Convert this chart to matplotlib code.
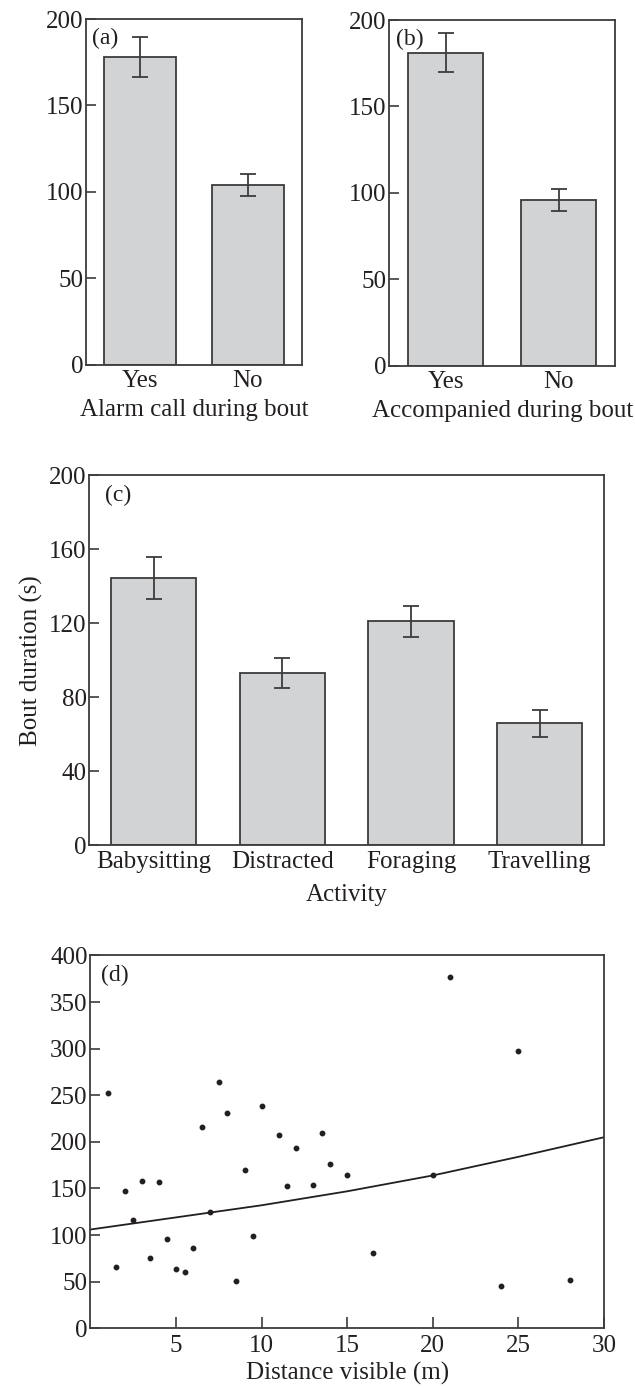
import numpy as np
import matplotlib
matplotlib.use("Agg")
import matplotlib.pyplot as plt

plt.rcParams['font.family'] = ['Liberation Serif', 'DejaVu Serif']
plt.rcParams['font.size'] = 18

INK = "#231f20"
SPINE = "#3c3c3c"
BAR_FACE = "#d1d3d4"

# (a) alarm call during bout
alarm_labels = ["Yes", "No"]
alarm_means = [178, 104]
alarm_se = [11.4, 6.5]

# (b) accompanied during bout
accomp_labels = ["Yes", "No"]
accomp_means = [181, 96]
accomp_se = [11.3, 6.5]

# (c) activity
activity_labels = ["Babysitting", "Distracted", "Foraging", "Travelling"]
activity_means = [144.5, 93.3, 121, 66]
activity_se = [11.2, 8.1, 8.2, 7.2]

# (d) distance visible vs bout duration
dist_x = [1, 1.5, 2, 2.5, 3, 3.5, 4, 4.5, 5, 5.5, 6, 6.5, 7, 7.5, 8, 8.5, 9,
          9.5, 10, 11, 11.5, 12, 13, 13.5, 14, 15, 16.5, 20, 21, 24, 25, 28]
dist_y = [252, 66, 147, 116, 158, 75, 157, 96, 64, 60, 86, 216, 125, 264, 231,
          51, 170, 99, 238, 207, 153, 193, 154, 210, 176, 165, 81, 164, 377,
          45, 298, 52]
fit_x = [0, 5, 10, 15, 20, 25, 30]
fit_y = [106, 119, 132, 147, 164, 184, 205]


def style_axes(ax):
    for s in ax.spines.values():
        s.set_color(SPINE)
        s.set_linewidth(1.3)
    ax.tick_params(axis='y', direction='in', length=7, width=1.2,
                   color=SPINE, pad=2, labelcolor=INK)
    ax.tick_params(axis='x', labelcolor=INK)


def bar_panel(ax, labels, means, se, ymax, yticks, tag):
    pos = np.arange(len(labels))
    ax.bar(pos, means, width=0.665, color=BAR_FACE, edgecolor=SPINE,
           linewidth=1.3, zorder=2)
    ax.errorbar(pos, means, yerr=se, fmt='none', ecolor=SPINE,
                elinewidth=1.3, capsize=5.5, capthick=1.3, zorder=3)
    ax.set_xlim(-0.5, len(labels) - 0.5)
    ax.set_ylim(0, ymax)
    ax.set_yticks(yticks)
    ax.set_xticks(pos)
    ax.set_xticklabels(labels)
    style_axes(ax)
    ax.tick_params(axis='x', length=0, pad=4)
    ax.text(0.03, 0.975, tag, transform=ax.transAxes, ha='left', va='top',
            color=INK, fontsize=17)


fig = plt.figure(figsize=(6.35, 13.89), dpi=100)

ax_a = fig.add_axes([0.1354, 0.7374, 0.3397, 0.2489])
bar_panel(ax_a, alarm_labels, alarm_means, alarm_se, 200,
          [0, 50, 100, 150, 200], "(a)")
ax_a.set_xlabel("Alarm call during bout", color=INK, labelpad=5)

ax_b = fig.add_axes([0.6131, 0.7367, 0.3559, 0.2489])
bar_panel(ax_b, accomp_labels, accomp_means, accomp_se, 200,
          [0, 50, 100, 150, 200], "(b)")
ax_b.set_xlabel("Accompanied during bout", color=INK, labelpad=5)

ax_c = fig.add_axes([0.1406, 0.3914, 0.8106, 0.2664])
bar_panel(ax_c, activity_labels, activity_means, activity_se, 200,
          [0, 40, 80, 120, 160, 200], "(c)")
ax_c.set_xlabel("Activity", color=INK, labelpad=8)
ax_c.set_ylabel("Bout duration (s)", color=INK, labelpad=4)

ax_d = fig.add_axes([0.1424, 0.0437, 0.8088, 0.2684])
ax_d.plot(fit_x, fit_y, color=INK, linewidth=1.3, zorder=2)
ax_d.plot(dist_x, dist_y, 'o', color=INK, markersize=3.2, zorder=3)
ax_d.set_xlim(0, 30)
ax_d.set_ylim(0, 400)
ax_d.set_xticks([5, 10, 15, 20, 25, 30])
ax_d.set_yticks(range(0, 401, 50))
style_axes(ax_d)
ax_d.tick_params(axis='x', direction='in', length=8, width=1.2,
                 color=SPINE, pad=5)
ax_d.text(0.02, 0.975, "(d)", transform=ax_d.transAxes, ha='left', va='top',
          color=INK, fontsize=17)
ax_d.set_xlabel("Distance visible (m)", color=INK, labelpad=3)

fig.savefig("out.png", dpi=100)
